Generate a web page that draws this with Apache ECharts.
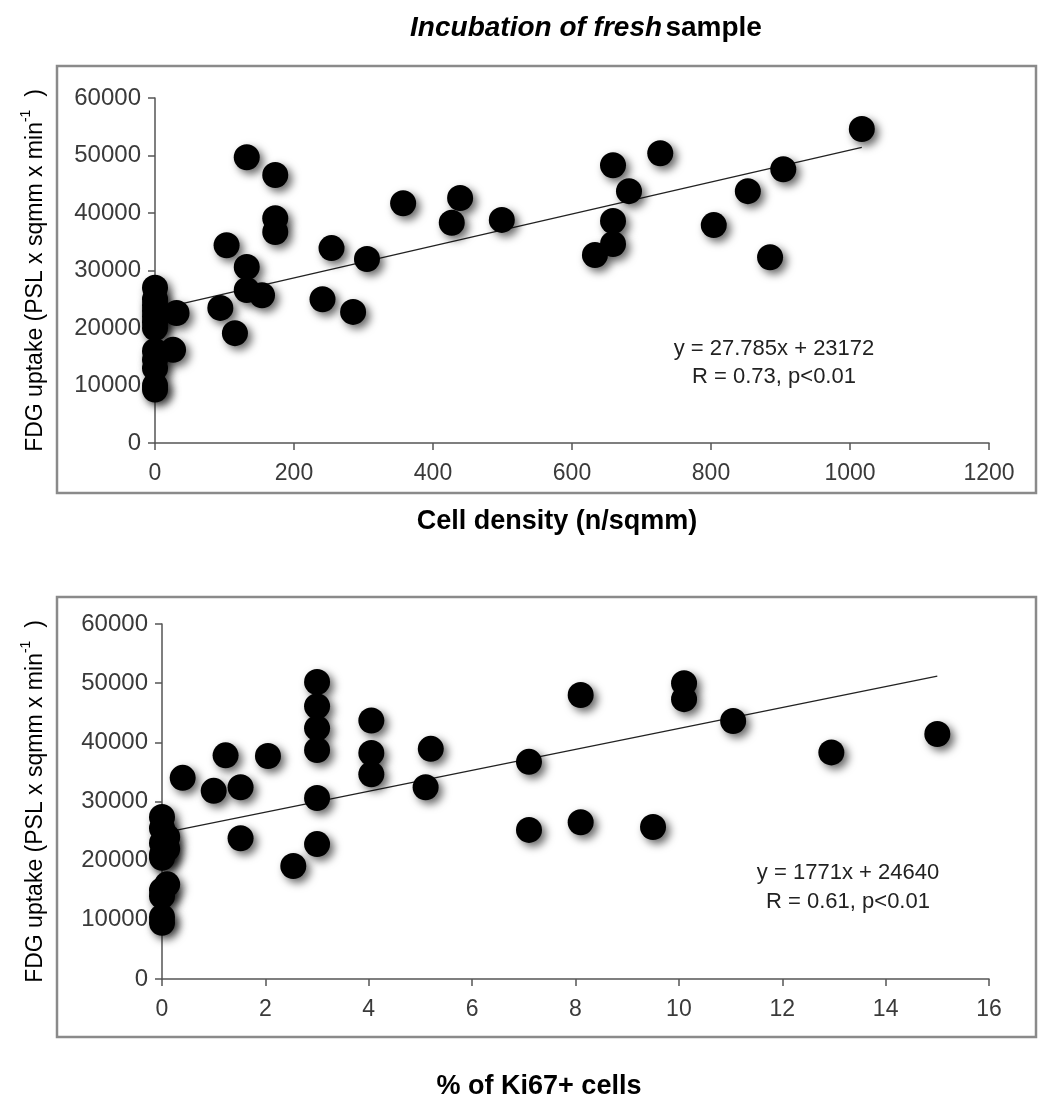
<!DOCTYPE html>
<html>
<head>
<meta charset="utf-8">
<script src="https://cdn.jsdelivr.net/npm/echarts@6/dist/echarts.min.js"></script>
<style>
html,body{margin:0;padding:0;background:#fff;}
#main{width:1040px;height:1097px;}
</style>
</head>
<body>
<div id="main"></div>
<script>
// cell density vs FDG uptake
var densityX = [0,0,0,0,0,0,0,0,0,0,0,0, 26,31,94,103,115,132,132,132,154,173,173,173,241,254,285,305,357,427,439,499,633,659,659,659,682,727,804,853,885,904,1017];
var densityY = [27000,25000,24000,23000,22000,21000,20000,16000,14500,13000,10000,9300, 16200,22600,23500,34400,19100,49700,30600,26600,25700,46600,39100,36700,25000,33900,22800,32000,41700,38300,42600,38800,32700,48300,38600,34600,43800,50400,37900,43800,32300,47600,54600];
var densityFit = {slope: 27.785, intercept: 23172, xEnd: 1017};
var densityLabel = ['y = 27.785x + 23172', 'R = 0.73, p<0.01'];

// Ki67 vs FDG uptake
var ki67X = [0,0,0.1,0,0.1,0,0,0.1,0,0,0,0, 0.4,1.0,1.23,1.52,1.52,2.05,2.54,3,3,3,3,3,3,4.05,4.05,4.05,5.2,5.1,7.1,7.1,8.1,8.1,9.5,10.1,10.1,11.05,12.95,15.0];
var ki67Y = [27400,25500,24000,23000,22000,21000,20500,16000,15000,14000,10500,9500, 34000,31800,37800,32400,23800,37700,19100,50200,46100,42400,38700,30600,22800,43700,38200,34600,38900,32400,36700,25200,48000,26500,25700,50000,47300,43600,38300,41400];
var ki67Fit = {slope: 1771, intercept: 24640, xEnd: 15};
var ki67Label = ['y = 1771x + 24640', 'R = 0.61, p<0.01'];

var yMax = 60000, yStep = 10000;
var densityMax = 1200, densityStep = 200;
var ki67Max = 16, ki67Step = 2;

var font = 'Liberation Sans';

function pairs(xs, ys){
  var out = [];
  for (var i = 0; i < xs.length; i++) out.push([xs[i], ys[i]]);
  return out;
}
function fitLine(f){
  return [[0, f.intercept], [f.xEnd, f.intercept + f.slope * f.xEnd]];
}

var yName = '{n|FDG uptake (PSL x sqmm x min}{s|-1}{n|  )}';
function yAxisOf(idx, gap){
  return {
    type: 'value', gridIndex: idx, min: 0, max: yMax, interval: yStep,
    name: yName, nameLocation: 'middle', nameGap: gap,
    nameTextStyle: {color: '#000', fontFamily: font, fontSize: 23,
      rich: {n: {fontSize: 23, fontFamily: font, color: '#000'},
             s: {fontSize: 14, fontFamily: font, color: '#000', padding: [0, 0, 20, 0]}}},
    axisLine: {show: true, lineStyle: {color: '#555', width: 1.5}},
    axisTick: {show: true, length: 7, lineStyle: {color: '#555', width: 1.5}},
    axisLabel: {color: '#3a3a3a', fontFamily: font, fontSize: 24, margin: 14, formatter: function(v){ return String(v); }},
    splitLine: {show: false}
  };
}
function xAxisOf(idx, max, step){
  return {
    type: 'value', gridIndex: idx, min: 0, max: max, interval: step,
    axisLine: {show: true, onZero: false, lineStyle: {color: '#555', width: 1.5}},
    axisTick: {show: true, length: 7, lineStyle: {color: '#555', width: 1.5}},
    axisLabel: {color: '#3a3a3a', fontFamily: font, fontSize: 23, margin: 19, formatter: function(v){ return String(v); }},
    splitLine: {show: false}
  };
}

var dotStyle = {color: '#000', opacity: 1, shadowBlur: 8, shadowOffsetX: 4, shadowOffsetY: 4, shadowColor: 'rgba(0,0,0,0.6)'};

var chart = echarts.init(document.getElementById('main'));
chart.setOption({
  backgroundColor: '#fff',
  animation: false,
  grid: [
    {left: 155, right: 51, top: 98, bottom: 654, containLabel: false},
    {left: 162, right: 51, top: 624, bottom: 118, containLabel: false}
  ],
  xAxis: [xAxisOf(0, densityMax, densityStep), xAxisOf(1, ki67Max, ki67Step)],
  yAxis: [yAxisOf(0, 102), yAxisOf(1, 109)],
  series: [
    {type: 'line', xAxisIndex: 0, yAxisIndex: 0, data: fitLine(densityFit), symbol: 'none', silent: true, z: 1,
     lineStyle: {color: '#222', width: 1.3}},
    {type: 'scatter', xAxisIndex: 0, yAxisIndex: 0, data: pairs(densityX, densityY), symbolSize: 26, z: 3, itemStyle: dotStyle},
    {type: 'line', xAxisIndex: 1, yAxisIndex: 1, data: fitLine(ki67Fit), symbol: 'none', silent: true, z: 1,
     lineStyle: {color: '#222', width: 1.3}},
    {type: 'scatter', xAxisIndex: 1, yAxisIndex: 1, data: pairs(ki67X, ki67Y), symbolSize: 26, z: 3, itemStyle: dotStyle}
  ],
  graphic: [
    {type: 'rect', z: -1, shape: {x: 57, y: 66, width: 979, height: 427}, style: {fill: 'none', stroke: '#8a8a8a', lineWidth: 2.5}},
    {type: 'rect', z: -1, shape: {x: 57, y: 597, width: 979, height: 440}, style: {fill: 'none', stroke: '#8a8a8a', lineWidth: 2.5}},
    {type: 'text', x: 586, y: 28, style: {
      text: '{i|Incubation of fresh} {b|sample}', align: 'center', verticalAlign: 'middle',
      rich: {i: {fontFamily: font, fontSize: 28, fontWeight: 'bold', fontStyle: 'italic', fill: '#000'},
             b: {fontFamily: font, fontSize: 28, fontWeight: 'bold', fill: '#000'}}}},
    {type: 'text', x: 557, y: 522, style: {text: 'Cell density (n/sqmm)', align: 'center', verticalAlign: 'middle',
      fontFamily: font, fontSize: 27, fontWeight: 'bold', fill: '#000'}},
    {type: 'text', x: 539, y: 1087, style: {text: '% of Ki67+ cells', align: 'center', verticalAlign: 'middle',
      fontFamily: font, fontSize: 27, fontWeight: 'bold', fill: '#000'}},
    {type: 'text', x: 774, y: 363, style: {text: densityLabel.join('\n'), align: 'center', verticalAlign: 'middle',
      fontFamily: font, fontSize: 22, lineHeight: 28, fill: '#222'}},
    {type: 'text', x: 848, y: 887, style: {text: ki67Label.join('\n'), align: 'center', verticalAlign: 'middle',
      fontFamily: font, fontSize: 22, lineHeight: 29, fill: '#222'}}
  ]
});
</script>
</body>
</html>
